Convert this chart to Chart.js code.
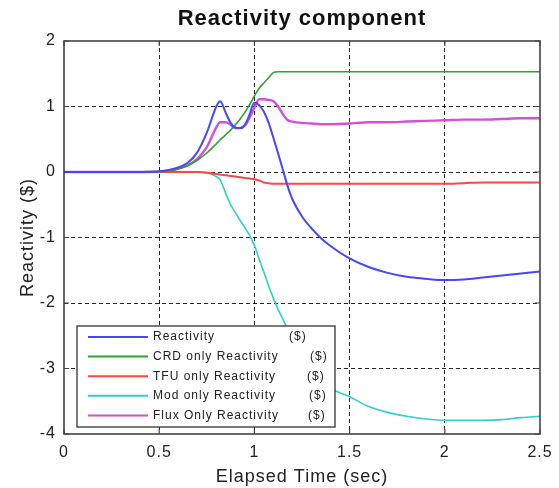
<!DOCTYPE html>
<html><head><meta charset="utf-8">
<script src="https://cdn.jsdelivr.net/npm/chart.js@4.4.0/dist/chart.umd.min.js"></script>
<style>html,body{margin:0;padding:0;background:#fff}#wrap{width:559px;height:488px;position:relative}</style>
</head><body><div id="wrap"><canvas id="c" width="559" height="488"></canvas></div>
<script>
// ---- data ----
const time = [0, 0.4, 0.45, 0.5, 0.55, 0.6, 0.65, 0.7, 0.75, 0.8, 0.82, 0.85, 0.875, 0.9, 0.925, 0.95, 0.975, 1.0, 1.025, 1.05, 1.075, 1.1, 1.125, 1.15, 1.175, 1.2, 1.25, 1.3, 1.35, 1.4, 1.5, 1.6, 1.7, 1.8, 1.9, 2.0, 2.1, 2.2, 2.3, 2.4, 2.5];
const reactivity = [0, 0, 0.005, 0.01, 0.03, 0.07, 0.14, 0.3, 0.6, 1.0, 1.08, 0.9, 0.75, 0.68, 0.67, 0.72, 0.88, 1.06, 1.02, 0.92, 0.75, 0.52, 0.28, 0.03, -0.22, -0.42, -0.68, -0.86, -1.01, -1.13, -1.32, -1.45, -1.54, -1.6, -1.63, -1.65, -1.64, -1.61, -1.58, -1.55, -1.52];
const crdOnly = [0, 0, 0, 0, 0.02, 0.05, 0.1, 0.18, 0.29, 0.43, 0.49, 0.57, 0.64, 0.72, 0.81, 0.91, 1.03, 1.16, 1.28, 1.36, 1.44, 1.52, 1.53, 1.53, 1.53, 1.53, 1.53, 1.53, 1.53, 1.53, 1.53, 1.53, 1.53, 1.53, 1.53, 1.53, 1.53, 1.53, 1.53, 1.53, 1.53];
const tfuOnly = [0, 0, 0, 0, 0, 0, 0, 0, -0.01, -0.03, -0.04, -0.05, -0.06, -0.07, -0.08, -0.09, -0.1, -0.11, -0.13, -0.16, -0.17, -0.18, -0.18, -0.18, -0.18, -0.18, -0.18, -0.18, -0.18, -0.18, -0.18, -0.18, -0.18, -0.18, -0.18, -0.18, -0.17, -0.16, -0.16, -0.16, -0.16];
const modOnly = [0, 0, 0, 0, 0, 0, 0, 0, -0.01, -0.07, -0.12, -0.33, -0.5, -0.62, -0.74, -0.85, -0.97, -1.12, -1.33, -1.53, -1.74, -1.93, -2.1, -2.25, -2.4, -2.53, -2.78, -3.02, -3.17, -3.3, -3.43, -3.58, -3.67, -3.73, -3.77, -3.79, -3.79, -3.79, -3.78, -3.75, -3.73];
const fluxOnly = [0, 0, 0, 0, 0.02, 0.05, 0.1, 0.2, 0.38, 0.68, 0.76, 0.76, 0.72, 0.67, 0.67, 0.71, 0.83, 0.98, 1.11, 1.11, 1.1, 1.08, 1.0, 0.88, 0.79, 0.77, 0.75, 0.74, 0.73, 0.73, 0.74, 0.76, 0.76, 0.77, 0.78, 0.79, 0.8, 0.8, 0.81, 0.82, 0.82];
const seriesLabels = ['Reactivity', 'CRD only Reactivity', 'TFU only Reactivity', 'Mod only Reactivity', 'Flux Only Reactivity'];
const unitLabel = '($)';
const xTickValues = [0, 0.5, 1, 1.5, 2, 2.5];
const xTickLabels = ['0', '0.5', '1', '1.5', '2', '2.5'];
const yTickValues = [-4, -3, -2, -1, 0, 1, 2];
const yTickLabels = ['-4', '-3', '-2', '-1', '0', '1', '2'];
const chartTitle = 'Reactivity component';
const xTitle = 'Elapsed Time (sec)';
const yTitle = 'Reactivity ($)';

// ---- styles ----
const FONT = '"Liberation Sans", Arial, Helvetica, sans-serif';
const colors = ['rgb(70,70,255)', 'rgb(50,160,50)', 'rgb(255,70,70)', 'rgb(50,205,205)', 'rgb(210,80,220)'];
const widths = [2, 1.6, 2, 1.6, 2.4];
const seriesValues = [reactivity, crdOnly, tfuOnly, modOnly, fluxOnly];

const datasets = seriesValues.map((vals, i) => ({
  label: seriesLabels[i],
  data: time.map((t, k) => ({x: t, y: vals[k]})),
  borderColor: colors[i],
  backgroundColor: colors[i],
  borderWidth: widths[i],
  pointRadius: 0,
  fill: false,
  cubicInterpolationMode: 'monotone'
}));

const spacingPlugin = {
  id: 'spacing',
  beforeLayout(chart) { chart.ctx.letterSpacing = '1px'; },
  beforeDraw(chart) { chart.ctx.letterSpacing = '1px'; }
};

const framePlugin = {
  id: 'frame',
  afterDatasetsDraw(chart) {
    const {ctx, chartArea: a, scales: {x, y}} = chart;
    ctx.save();
    ctx.setLineDash([]);
    ctx.strokeStyle = '#444';
    ctx.lineWidth = 1.6;
    ctx.strokeRect(a.left, a.top, a.right - a.left, a.bottom - a.top);
    ctx.lineWidth = 1.2;
    ctx.beginPath();
    xTickValues.forEach(v => {
      const px = x.getPixelForValue(v);
      ctx.moveTo(px, a.bottom); ctx.lineTo(px, a.bottom - 5);
      ctx.moveTo(px, a.top); ctx.lineTo(px, a.top + 5);
    });
    yTickValues.forEach(v => {
      const py = y.getPixelForValue(v);
      ctx.moveTo(a.left, py); ctx.lineTo(a.left + 5, py);
      ctx.moveTo(a.right, py); ctx.lineTo(a.right - 5, py);
    });
    ctx.stroke();
    ctx.restore();
  }
};

const legendPlugin = {
  id: 'boxLegend',
  afterDatasetsDraw(chart, args, opts) {
    const ctx = chart.ctx;
    ctx.save();
    ctx.setLineDash([]);
    ctx.fillStyle = '#fff';
    ctx.fillRect(opts.left, opts.top, opts.width, opts.height);
    ctx.strokeStyle = '#333';
    ctx.lineWidth = 1.3;
    ctx.strokeRect(opts.left, opts.top, opts.width, opts.height);
    ctx.font = '12px ' + FONT;
    ctx.letterSpacing = '1px';
    ctx.textBaseline = 'middle';
    ctx.textAlign = 'left';
    chart.data.datasets.forEach((ds, i) => {
      const yy = opts.firstRow + i * opts.rowGap;
      ctx.strokeStyle = ds.borderColor;
      ctx.lineWidth = 2;
      ctx.beginPath();
      ctx.moveTo(opts.lineX0, yy); ctx.lineTo(opts.lineX1, yy);
      ctx.stroke();
      ctx.fillStyle = '#222';
      ctx.fillText(ds.label, opts.textX, yy);
      ctx.fillText(unitLabel, opts.unitX[i], yy);
    });
    ctx.restore();
  }
};

const gridColor = edges => c => (c.tick && edges.includes(c.tick.value)) ? 'rgba(0,0,0,0)' : 'rgba(0,0,0,0.85)';

new Chart(document.getElementById('c'), {
  type: 'line',
  data: {datasets},
  plugins: [spacingPlugin, framePlugin, legendPlugin],
  options: {
    responsive: false,
    devicePixelRatio: 1,
    animation: false,
    layout: {padding: {left: 0, right: 19, top: 0, bottom: 0}},
    plugins: {
      legend: {display: false},
      tooltip: {enabled: false},
      title: {
        display: true, text: chartTitle, fullSize: false, color: '#111',
        font: {family: FONT, size: 22, weight: 'bold'},
        padding: {top: 6, bottom: 8.6}
      },
      boxLegend: {
        left: 77, top: 326, width: 258, height: 101,
        lineX0: 88, lineX1: 148, textX: 153, firstRow: 337, rowGap: 19.6,
        unitX: [289, 310, 307, 309, 308]
      }
    },
    scales: {
      x: {
        type: 'linear', min: 0, max: 2.5,
        afterBuildTicks: s => { s.ticks = xTickValues.map(v => ({value: v})); },
        afterFit: s => { s.height = 54; },
        ticks: {
          callback: (v, i) => xTickLabels[i], autoSkip: false, maxRotation: 0,
          color: '#222', padding: 6, font: {family: FONT, size: 16, lineHeight: 1.6}
        },
        grid: {color: gridColor([0, 2.5]), lineWidth: 1, drawTicks: false},
        border: {display: false, dash: [4, 3]},
        title: {display: true, text: xTitle, color: '#222', font: {family: FONT, size: 18}, padding: {top: 0, bottom: 0}}
      },
      y: {
        type: 'linear', min: -4, max: 2,
        afterBuildTicks: s => { s.ticks = yTickValues.map(v => ({value: v})); },
        afterFit: s => { s.width = 64; },
        ticks: {
          callback: (v, i) => yTickLabels[i], autoSkip: false,
          color: '#222', padding: 8, font: {family: FONT, size: 16}
        },
        grid: {color: gridColor([-4, 2]), lineWidth: 1, drawTicks: false},
        border: {display: false, dash: [4, 3]},
        title: {display: true, text: yTitle, color: '#222', font: {family: FONT, size: 18}, padding: {top: 17, bottom: 0}}
      }
    }
  }
});
</script>
</body></html>
